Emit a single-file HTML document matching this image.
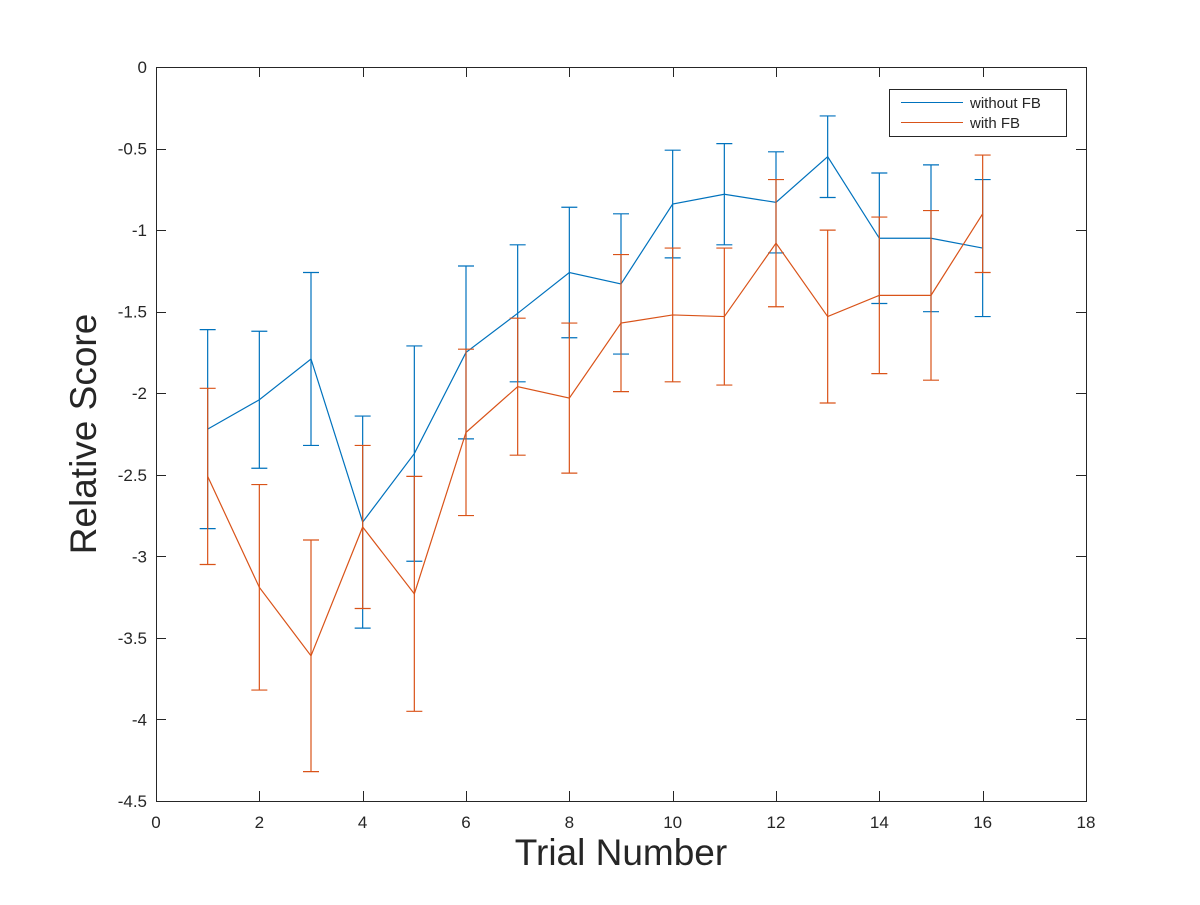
<!DOCTYPE html>
<html><head><meta charset="utf-8"><style>
body{margin:0;background:#fff}
svg text{font-family:"Liberation Sans",sans-serif;fill:#262626}
</style></head><body>
<svg id="chart" width="1200" height="900" xmlns="http://www.w3.org/2000/svg">
<rect x="0" y="0" width="1200" height="900" fill="#fff"/>
<g id="axes"></g>
<g id="series"></g>
<g id="legend">
<rect x="889.5" y="89.5" width="177" height="47" fill="#fff" stroke="#262626" stroke-width="1"/>
<line x1="901" y1="102.5" x2="963" y2="102.5" stroke="#0072BD" stroke-width="1"/>
<text x="970" y="108" font-size="15">without FB</text>
<line x1="901" y1="122.5" x2="963" y2="122.5" stroke="#D95319" stroke-width="1"/>
<text x="970" y="128" font-size="15">with FB</text>
</g>
<text x="621" y="865" font-size="37" text-anchor="middle">Trial Number</text>
<text x="96" y="434" font-size="37" text-anchor="middle" transform="rotate(-90 96 434)">Relative Score</text>
</svg>
<script>
const trials = [1,2,3,4,5,6,7,8,9,10,11,12,13,14,15,16];
const blueMean = [-2.22,-2.04,-1.79,-2.79,-2.37,-1.75,-1.51,-1.26,-1.33,-0.84,-0.78,-0.83,-0.55,-1.05,-1.05,-1.11];
const blueErr = [0.61,0.42,0.53,0.65,0.66,0.53,0.42,0.40,0.43,0.33,0.31,0.31,0.25,0.40,0.45,0.42];
const redMean = [-2.51,-3.19,-3.61,-2.82,-3.23,-2.24,-1.96,-2.03,-1.57,-1.52,-1.53,-1.08,-1.53,-1.40,-1.40,-0.90];
const redErr = [0.54,0.63,0.71,0.50,0.72,0.51,0.42,0.46,0.42,0.41,0.42,0.39,0.53,0.48,0.52,0.36];
const xTicks = [0,2,4,6,8,10,12,14,16,18];
const yTicks = [0,-0.5,-1,-1.5,-2,-2.5,-3,-3.5,-4,-4.5];
const yTickLabels = ["0","-0.5","-1","-1.5","-2","-2.5","-3","-3.5","-4","-4.5"];

const L=156,R=1086,T=67,B=801;
const xS=v=>L+(v-0)/(18-0)*(R-L);
const yS=v=>T+(0-v)/(4.5)*(B-T);
const NS="http://www.w3.org/2000/svg";
function mk(tag,attrs,parent){const e=document.createElementNS(NS,tag);for(const k in attrs)e.setAttribute(k,attrs[k]);parent.appendChild(e);return e;}

const ax=document.getElementById('axes');
const frame=mk('rect',{x:L+0.5,y:T+0.5,width:R-L,height:B-T,fill:'none',stroke:'#262626','stroke-width':1},ax);


xTicks.forEach(v=>{
  const x=Math.round(xS(v))+0.5;
  const t1=mk('line',{x1:x,y1:B,x2:x,y2:B-10,stroke:'#262626'},ax);
  
  
  const t2=mk('line',{x1:x,y1:T,x2:x,y2:T+10,stroke:'#262626'},ax);
  
  
  const lb=mk('text',{x:xS(v),y:B+27,'font-size':17,'text-anchor':'middle'},ax);
  lb.textContent=String(v);
  
  
});
yTicks.forEach((v,i)=>{
  const y=Math.round(yS(v))+0.5;
  const t1=mk('line',{x1:L,y1:y,x2:L+10,y2:y,stroke:'#262626'},ax);
  
  
  const t2=mk('line',{x1:R,y1:y,x2:R-10,y2:y,stroke:'#262626'},ax);
  
  
  const lb=mk('text',{x:L-9,y:yS(v)+6,'font-size':17,'text-anchor':'end'},ax);
  lb.textContent=yTickLabels[i];
  
  
});

const sg=document.getElementById('series');
function drawSeries(means,errs,color,name){
  const g=mk('g',{},sg);
  
  
  const pts=trials.map((t,i)=>xS(t)+','+yS(means[i])).join(' ');
  const pl=mk('polyline',{points:pts,fill:'none',stroke:color,'stroke-width':1.2},g);
  
  
  trials.forEach((t,i)=>{
    const x=xS(t),y1=yS(means[i]+errs[i]),y2=yS(means[i]-errs[i]);
    const eb=mk('path',{d:`M${x},${y1}V${y2}M${x-8},${y1}H${x+8}M${x-8},${y2}H${x+8}`,fill:'none',stroke:color,'stroke-width':1.2},g);
    
    
  });
}
drawSeries(blueMean,blueErr,'#0072BD','series-without-fb');
drawSeries(redMean,redErr,'#D95319','series-with-fb');
</script>
</body></html>
